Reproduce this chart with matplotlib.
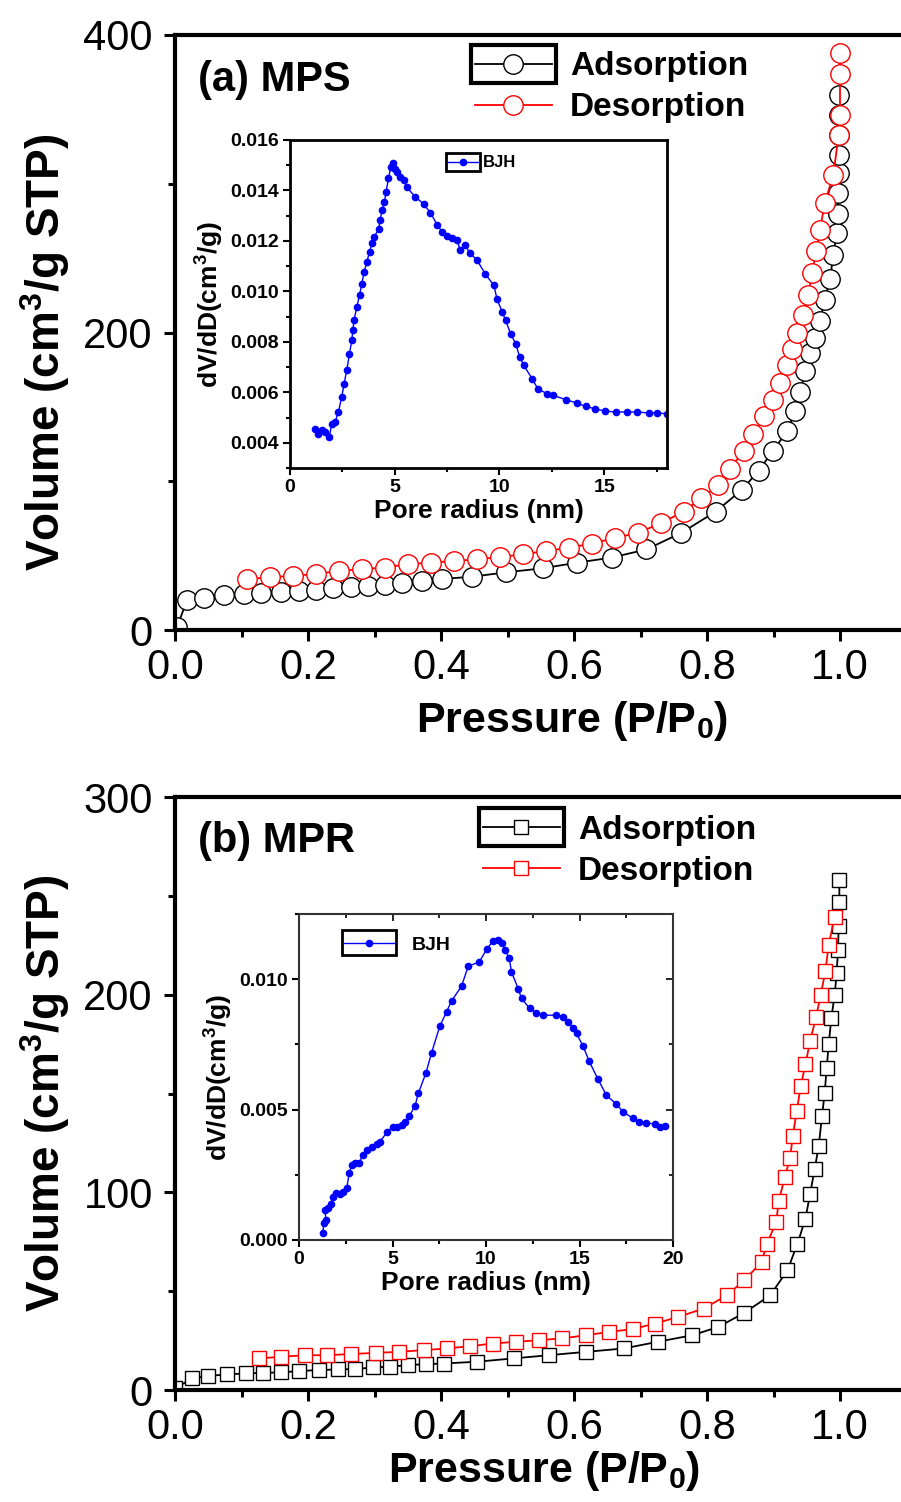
import matplotlib.pyplot as plt
from matplotlib.patches import Rectangle
from matplotlib.ticker import MultipleLocator

plt.rcParams['font.family'] = ['Liberation Sans', 'DejaVu Sans']
plt.rcParams['mathtext.fontset'] = 'custom'
plt.rcParams['mathtext.rm'] = 'Liberation Sans'
plt.rcParams['mathtext.bf'] = 'Liberation Sans:bold'
plt.rcParams['mathtext.it'] = 'Liberation Sans:italic'

# (a) MPS isotherm
p_ads_a = [0.003, 0.018, 0.044, 0.074, 0.104, 0.130, 0.160, 0.186, 0.212, 0.238, 0.264, 0.290,
           0.316, 0.342, 0.372, 0.402, 0.446, 0.497, 0.553, 0.605, 0.657, 0.709, 0.761, 0.813,
           0.852, 0.878, 0.899, 0.921, 0.932, 0.940, 0.948, 0.955, 0.962, 0.970, 0.977, 0.985,
           0.990, 0.995, 0.997, 0.997, 0.998, 0.998, 0.998, 0.999, 0.999]
v_ads_a = [2, 19.9, 21.6, 23.2, 24.3, 24.7, 25.4, 26.5, 27.2, 28.3, 28.8, 29.9,
           30.5, 31.4, 32.7, 34.3, 35.8, 38.7, 41.5, 45.3, 48.7, 54.2, 65.2, 79.6,
           94.0, 107.2, 120.5, 133.8, 147, 160, 174, 186, 196, 208, 222, 236,
           252, 267, 280, 294, 307, 319, 333, 346, 360]
p_des_a = [0.108, 0.143, 0.178, 0.212, 0.247, 0.281, 0.316, 0.350, 0.385, 0.420, 0.454, 0.489,
           0.523, 0.558, 0.592, 0.627, 0.661, 0.696, 0.731, 0.765, 0.791, 0.817, 0.834, 0.856,
           0.869, 0.886, 0.899, 0.910, 0.920, 0.928, 0.936, 0.944, 0.952, 0.958, 0.964, 0.970,
           0.977, 0.990, 0.998, 1.0, 1.0, 1.0]
v_des_a = [34.3, 35.4, 36.5, 37.6, 39.8, 40.9, 42.0, 44.2, 45.3, 46.4, 47.5, 49.1,
           50.9, 53.1, 55.3, 58.1, 61.9, 65.2, 71.9, 79.6, 88.5, 97.3, 108.4, 120.5,
           131.6, 143.7, 154.8, 166, 178, 189, 200, 212, 225, 240, 255, 269,
           287, 306, 333, 346, 374, 388]

# (a) BJH inset
r_a = [1.20, 1.36, 1.52, 1.67, 1.88, 1.99, 2.15, 2.31, 2.47, 2.58, 2.71, 2.84, 2.95, 3.00,
       3.06, 3.19, 3.32, 3.43, 3.54, 3.67, 3.80, 3.91, 4.03, 4.23, 4.31, 4.39, 4.51, 4.59,
       4.70, 4.82, 4.90, 4.99, 5.10, 5.26, 5.42, 5.58, 5.98, 6.38, 6.70, 7.02, 7.26, 7.50,
       7.73, 7.97, 8.13, 8.37, 8.58, 8.93, 9.33, 9.73, 9.89, 10.13, 10.29, 10.53, 10.77,
       10.97, 11.16, 11.56, 11.83, 12.28, 12.57, 13.16, 13.72, 14.11, 14.55, 15.02, 15.55,
       16.11, 16.59, 17.14, 17.54, 18.0]
d_a = [0.00456, 0.00436, 0.00449, 0.00442, 0.00422, 0.00475, 0.00482, 0.00522, 0.00581,
       0.00634, 0.00687, 0.00753, 0.00806, 0.00846, 0.00886, 0.00939, 0.00985, 0.01031,
       0.01077, 0.01117, 0.01157, 0.01190, 0.01216, 0.01249, 0.01282, 0.01322, 0.01355,
       0.01395, 0.01448, 0.01494, 0.01507, 0.01484, 0.01474, 0.01454, 0.01441, 0.01412,
       0.01375, 0.01346, 0.01312, 0.01265, 0.01236, 0.01219, 0.01210, 0.01203, 0.01163,
       0.01183, 0.01153, 0.01124, 0.01068, 0.01025, 0.00968, 0.00919, 0.00886, 0.00833,
       0.00793, 0.00740, 0.00707, 0.00654, 0.00614, 0.00594, 0.00588, 0.00571, 0.00557,
       0.00544, 0.00535, 0.00526, 0.00522, 0.00522, 0.00522, 0.00518, 0.00518, 0.00515]

# (b) MPR isotherm
p_ads_b = [0.0, 0.026, 0.050, 0.078, 0.107, 0.133, 0.160, 0.186, 0.217, 0.245, 0.271, 0.298,
           0.324, 0.350, 0.378, 0.404, 0.454, 0.510, 0.562, 0.618, 0.675, 0.726, 0.778, 0.817,
           0.856, 0.895, 0.921, 0.936, 0.948, 0.955, 0.962, 0.968, 0.973, 0.977, 0.980, 0.983,
           0.987, 0.992, 0.995, 0.997, 0.998, 0.999, 0.999]
v_ads_b = [0.8, 5.9, 7.1, 7.9, 8.4, 8.7, 8.9, 9.6, 10.1, 10.4, 10.6, 11.4,
           11.8, 12.6, 13.1, 13.4, 14.3, 16.0, 17.6, 19.3, 21.0, 24.4, 27.7, 31.9,
           39.0, 47.9, 60.5, 74.0, 86.6, 99.2, 111.8, 123.5, 138.7, 150.4, 163.0, 174.8,
           188.2, 200.0, 210.9, 222.7, 234.5, 247.1, 258.0]
p_des_b = [0.126, 0.160, 0.195, 0.229, 0.264, 0.303, 0.337, 0.375, 0.409, 0.444, 0.478, 0.513,
           0.547, 0.582, 0.618, 0.653, 0.688, 0.722, 0.757, 0.795, 0.830, 0.856, 0.882, 0.890,
           0.904, 0.908, 0.917, 0.925, 0.929, 0.935, 0.941, 0.948, 0.955, 0.964, 0.971, 0.978,
           0.983, 0.992]
v_des_b = [16.0, 16.8, 17.6, 17.6, 18.2, 18.8, 19.3, 20.2, 21.0, 22.2, 23.5, 24.4,
           25.2, 26.1, 27.7, 29.4, 30.8, 33.6, 37.0, 41.2, 47.9, 55.5, 64.7, 74.0,
           84.9, 95.8, 107.6, 117.6, 128.6, 141.2, 153.8, 164.7, 176.5, 188.6, 200.0, 211.8,
           225.2, 239.5]

# (b) BJH inset
r_b = [1.26, 1.34, 1.44, 1.39, 1.57, 1.69, 1.83, 1.98, 2.19, 2.37, 2.55, 2.69, 2.81, 2.99,
       3.22, 3.40, 3.62, 3.88, 4.15, 4.33, 4.72, 5.00, 5.22, 5.49, 5.66, 5.89, 6.20, 6.38,
       6.79, 7.09, 7.53, 7.89, 8.16, 8.69, 9.05, 9.64, 10.03, 10.38, 10.65, 10.88, 11.01,
       11.24, 11.36, 11.72, 11.90, 12.34, 12.70, 13.05, 13.77, 14.12, 14.39, 14.66, 14.84,
       15.19, 15.51, 15.99, 16.44, 16.97, 17.33, 17.86, 18.18, 18.58, 19.02, 19.29, 19.56]
d_b = [0.00026, 0.00064, 0.00077, 0.00115, 0.00121, 0.00138, 0.00166, 0.00181, 0.00176,
       0.00185, 0.00198, 0.00258, 0.00287, 0.00294, 0.00294, 0.00326, 0.00347, 0.00358,
       0.00370, 0.00377, 0.00415, 0.00434, 0.00434, 0.00441, 0.00453, 0.00475, 0.00513,
       0.00562, 0.00641, 0.00718, 0.00820, 0.00875, 0.00917, 0.00973, 0.01050, 0.01066,
       0.01114, 0.01147, 0.01152, 0.01137, 0.01111, 0.01083, 0.01028, 0.00964, 0.00926,
       0.00888, 0.00871, 0.00862, 0.00862, 0.00856, 0.00836, 0.00811, 0.00792, 0.00743,
       0.00687, 0.00616, 0.00555, 0.00521, 0.00492, 0.00466, 0.00453, 0.00450, 0.00444,
       0.00434, 0.00437]

W, H = 901, 1502
fig = plt.figure(figsize=(W / 100, H / 100), dpi=100)
fig.patch.set_facecolor('white')


def px_axes(l, t, r, b):
    # axes placed by pixel edges of the target picture
    return fig.add_axes([l / W, 1 - b / H, (r - l) / W, (b - t) / H])


boxes = []  # legends whose first handle gets an Origin-style frame


def main_panel(ax, ymax, ymajor, marker, ms, pa, va, pd, vd, tag, legpos, xlab_x, ylab_y, xpad):
    ax.plot(pa, va, color='black', lw=1.3, marker=marker, ms=ms, mfc='white',
            mec='black', mew=1.0, label='Adsorption')
    ax.plot(pd, vd, color='red', lw=1.3, marker=marker, ms=ms, mfc='white',
            mec='red', mew=1.0, label='Desorption')
    ax.set_xlim(0, 1.1)
    ax.set_ylim(0, ymax)
    ax.xaxis.set_major_locator(MultipleLocator(0.2))
    ax.xaxis.set_minor_locator(MultipleLocator(0.1))
    ax.yaxis.set_major_locator(MultipleLocator(ymajor))
    ax.yaxis.set_minor_locator(MultipleLocator(ymajor / 2))
    ax.xaxis.set_major_formatter(lambda v, p: f'{v:.1f}')
    ax.yaxis.set_major_formatter(lambda v, p: f'{v:.0f}')
    for s in ax.spines.values():
        s.set_linewidth(3)
    ax.spines['right'].set_visible(False)
    ax.tick_params(which='major', direction='out', length=8, width=2.2, labelsize=30)
    ax.tick_params(which='minor', direction='out', length=5, width=2.2)
    ax.tick_params(axis='x', pad=5)
    ax.tick_params(axis='y', pad=8)
    ax.set_xlabel(r'Pressure (P/P$_\mathbf{0}$)', fontsize=31, fontweight='bold', labelpad=xpad)
    ax.set_ylabel(r'Volume (cm$^\mathbf{3}$/g STP)', fontsize=33, fontweight='bold', labelpad=8)
    ax.xaxis.label.set_x(xlab_x)
    ax.yaxis.label.set_y(ylab_y)
    ax.text(0.032, 0.925, tag, transform=ax.transAxes, fontsize=30, fontweight='bold',
            va='center', ha='left')
    leg = ax.legend(loc='center left', bbox_to_anchor=legpos, frameon=False, numpoints=1,
                    prop={'weight': 'bold', 'size': 24}, handlelength=2.3,
                    handletextpad=0.55, labelspacing=0.3, borderpad=0, borderaxespad=0)
    boxes.append((leg, 4, 19, 3.0))


def inset_panel(ax, r, d, xmax, xmajor, ylim, yticks, legpos, legfs, hlen, htp, boxh):
    ax.plot(r, d, color='#0000ff', lw=1.0, marker='o', ms=4.5, mec='#0000ff',
            mfc='#0000ff', label='BJH')
    ax.set_xlim(0, xmax)
    ax.set_ylim(*ylim)
    xt = list(range(0, xmax + 1, xmajor))
    ax.set_xticks(xt, [str(v) for v in xt], fontweight='bold', fontsize=14)
    ax.set_yticks(yticks, [f'{v:.3f}' for v in yticks], fontweight='bold', fontsize=14)
    ax.xaxis.set_minor_locator(MultipleLocator(xmajor / 2))
    ax.yaxis.set_minor_locator(MultipleLocator((yticks[1] - yticks[0]) / 2))
    ax.tick_params(which='major', direction='out', length=5, width=1.5, pad=3)
    ax.tick_params(which='minor', direction='out', length=3, width=1.5)
    ax.set_xlabel('Pore radius (nm)', fontsize=19, fontweight='bold', labelpad=2)
    ax.set_ylabel(r'dV/dD(cm$^\mathbf{3}$/g)', fontsize=19, fontweight='bold', labelpad=3)
    leg = ax.legend(loc='center left', bbox_to_anchor=legpos, frameon=False, numpoints=1,
                    prop={'weight': 'bold', 'size': legfs}, handlelength=hlen,
                    handletextpad=htp, borderpad=0, borderaxespad=0)
    boxes.append((leg, 2, boxh, 2.0))


ax_a = px_axes(175, 35, 906.5, 630)
main_panel(ax_a, 400, 200, 'o', 14, p_ads_a, v_ads_a, p_des_a, v_des_a, '(a) MPS',
           (0.41, 0.912), 0.543, 0.467, 8)

ins_a = px_axes(290, 140, 667, 468)
for s in ins_a.spines.values():
    s.set_linewidth(2)
inset_panel(ins_a, r_a, d_a, 18, 5, (0.003, 0.016),
            [0.004, 0.006, 0.008, 0.010, 0.012, 0.014, 0.016], (0.42, 0.93), 12, 1.8, 0.3, 9)

ax_b = px_axes(175, 797, 906.5, 1390)
main_panel(ax_b, 300, 100, 's', 10, p_ads_b, v_ads_b, p_des_b, v_des_b, '(b) MPR',
           (0.421, 0.909), 0.505, 0.5, 1)

ins_b = px_axes(299, 914, 673, 1240)
for s in ins_b.spines.values():
    s.set_linewidth(1.5)
    s.set_color('#333333')
inset_panel(ins_b, r_b, d_b, 20, 5, (0.0, 0.0125), [0.0, 0.005, 0.010],
            (0.12, 0.905), 14, 2.6, 0.9, 12.5)
# inward ticks on the top and right edges of the lower inset
sec_x = ins_b.secondary_xaxis('top')
sec_x.set_xticks([0, 5, 10, 15, 20], ['', '', '', '', ''])
sec_x.xaxis.set_minor_locator(MultipleLocator(2.5))
sec_x.tick_params(which='major', direction='in', length=5, width=1.2)
sec_x.tick_params(which='minor', direction='in', length=3, width=1.2)
sec_y = ins_b.secondary_yaxis('right')
sec_y.set_yticks([0.0, 0.005, 0.010], ['', '', ''])
sec_y.yaxis.set_minor_locator(MultipleLocator(0.0025))
sec_y.tick_params(which='major', direction='in', length=5, width=1.2)
sec_y.tick_params(which='minor', direction='in', length=3, width=1.2)
for s in list(sec_x.spines.values()) + list(sec_y.spines.values()):
    s.set_visible(False)

# frame around the first legend handle, as the original software draws it
fig.canvas.draw()
for leg, pad, half_h, lw in boxes:
    line = leg.get_lines()[0]
    xy = line.get_transform().transform(line.get_xydata())
    x0, x1 = xy[:, 0].min() - pad, xy[:, 0].max() + pad
    cy = xy[:, 1].mean()
    fig.add_artist(Rectangle((x0 / W, (cy - half_h) / H), (x1 - x0) / W, 2 * half_h / H,
                             transform=fig.transFigure, fill=False, ec='black', lw=lw))

fig.savefig('out.png', dpi=100, facecolor='white')
